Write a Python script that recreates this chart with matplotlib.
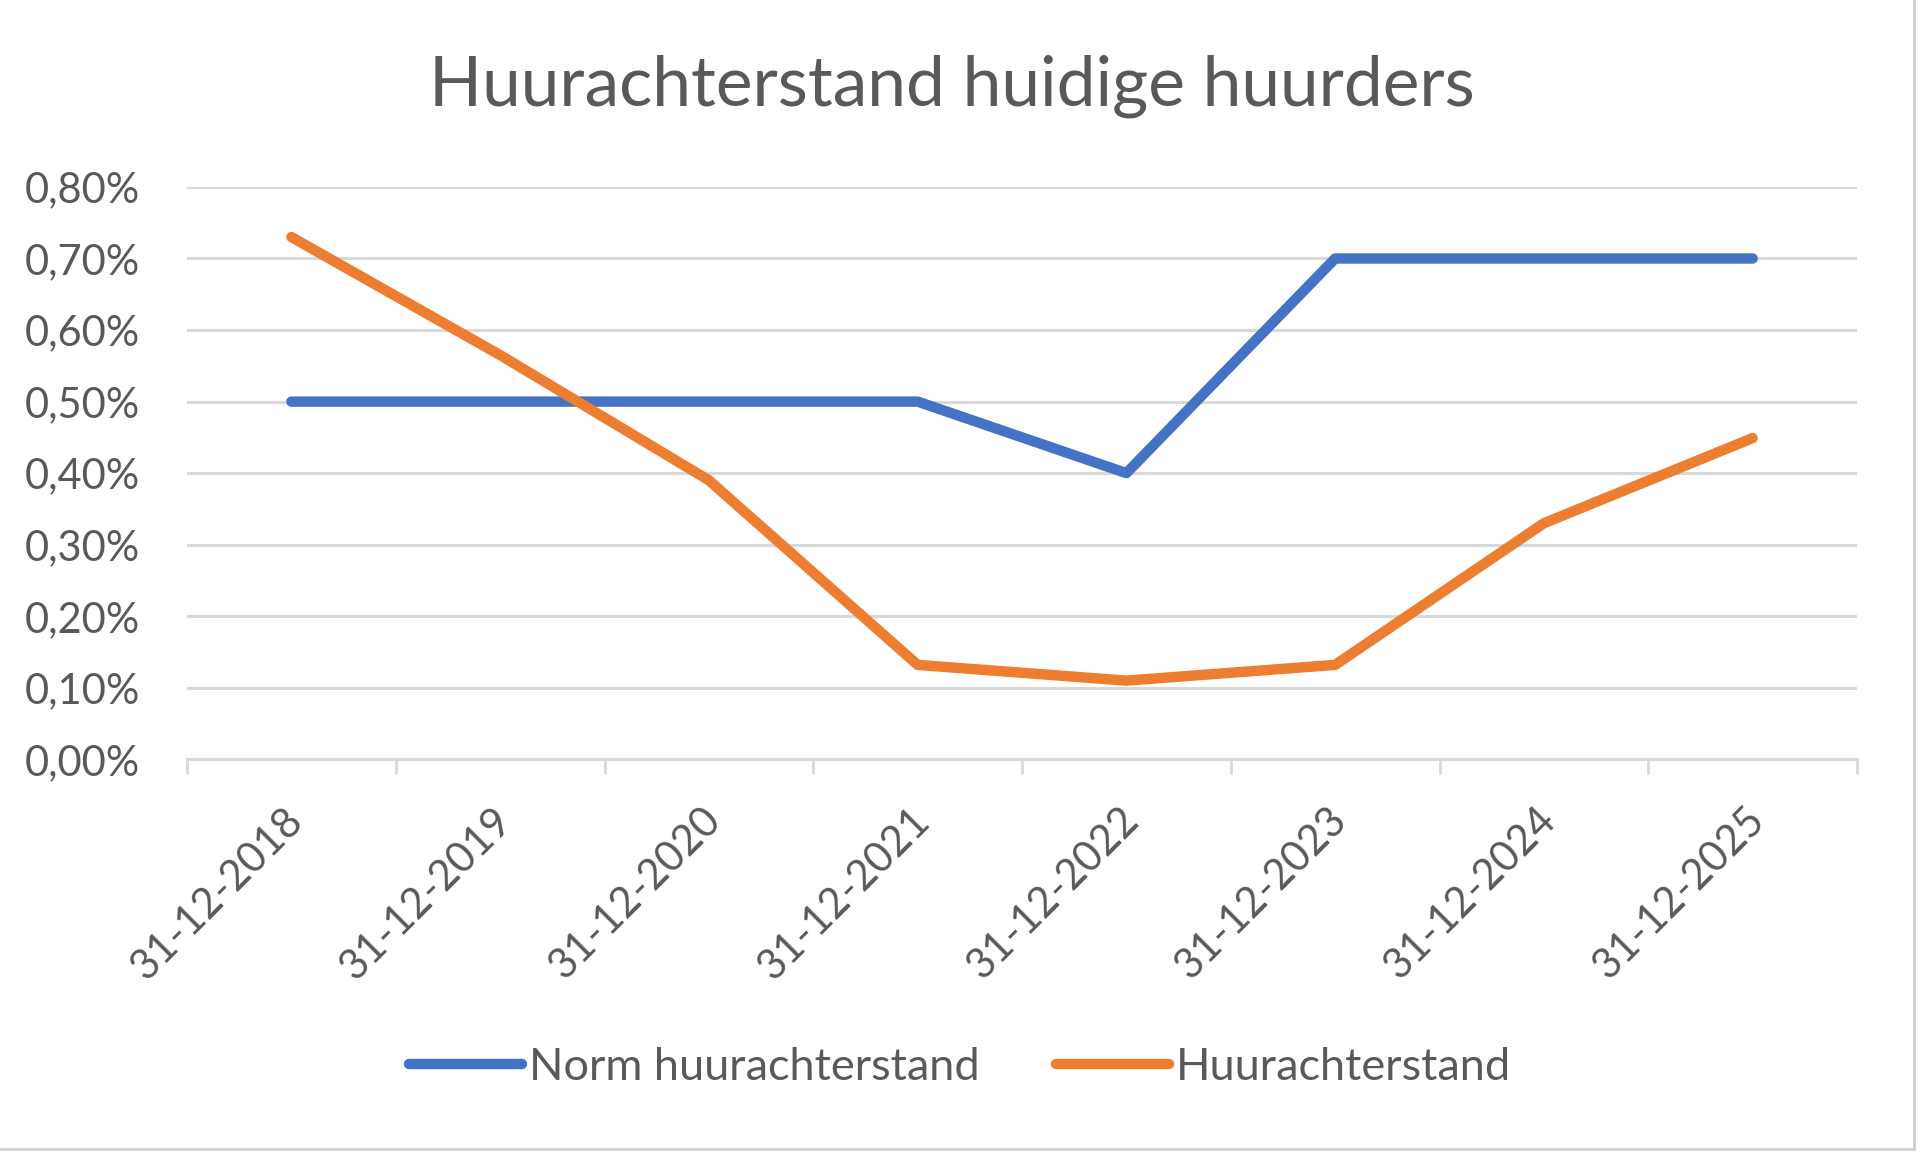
import matplotlib.pyplot as plt
import matplotlib.transforms as mtransforms
from matplotlib.lines import Line2D
from matplotlib.ticker import FuncFormatter

plt.rcParams['font.family'] = ['Lato', 'DejaVu Sans']

dates = ['31-12-2018', '31-12-2019', '31-12-2020', '31-12-2021',
         '31-12-2022', '31-12-2023', '31-12-2024', '31-12-2025']
norm = [0.50, 0.50, 0.50, 0.50, 0.40, 0.70, 0.70, 0.70]
achterstand = [0.73, 0.565, 0.39, 0.132, 0.11, 0.132, 0.33, 0.449]

grey = '#595959'

fig = plt.figure(figsize=(19.2, 11.54), dpi=100)
ax = fig.add_axes([0.0974, 0.342, 0.8698, 0.496])

x = list(range(len(dates)))
ax.plot(x, norm, color='#4472C4', lw=7.5, solid_capstyle='round', label='Norm huurachterstand', zorder=3)
ax.plot(x, achterstand, color='#ED7D31', lw=7.5, solid_capstyle='round', label='Huurachterstand', zorder=3)

ax.set_xlim(-0.5, len(dates) - 0.5)
ax.set_ylim(0, 0.8)
ax.set_yticks([i / 10 for i in range(9)])
ax.yaxis.set_major_formatter(FuncFormatter(lambda v, p: '{:.2f}%'.format(v).replace('.', ',')))
ax.grid(axis='y', color='#D9D9D9', lw=2.2)
ax.set_axisbelow(True)

ax.set_xticks(x)
ax.set_xticklabels(dates, rotation=45, ha='right', rotation_mode='anchor')
ax.set_xticks([i - 0.5 for i in range(len(dates) + 1)], minor=True)
ax.tick_params(axis='x', which='major', length=0, pad=30, labelsize=30, labelcolor=grey)
ax.tick_params(axis='x', which='minor', length=11, width=2, color='#D9D9D9')
ax.tick_params(axis='y', length=0, pad=34, labelsize=30, labelcolor=grey)

# nudge the rotated date labels a little to the left
shift = mtransforms.ScaledTranslation(-8 / 100, 0, fig.dpi_scale_trans)
for lbl in ax.get_xticklabels():
    lbl.set_transform(lbl.get_transform() + shift)

for s in ['top', 'right', 'left']:
    ax.spines[s].set_visible(False)
ax.spines['bottom'].set_color('#D9D9D9')
ax.spines['bottom'].set_linewidth(2.2)

fig.text(0.496, 0.925, 'Huurachterstand huidige huurders', ha='center', va='center',
         fontsize=50, color=grey)

fig.legend(loc='center', bbox_to_anchor=(0.5, 0.075), ncol=2, frameon=False,
           fontsize=32.5, labelcolor=grey, handlelength=2.5, handletextpad=0.15,
           columnspacing=1.7)

# sheet cell borders around the chart
fig.add_artist(Line2D([0.997, 0.997], [0.004, 1.0], transform=fig.transFigure, color='#D0D0D0', lw=2))
fig.add_artist(Line2D([0.0, 0.997], [0.004, 0.004], transform=fig.transFigure, color='#D0D0D0', lw=2))

fig.savefig('out.png', dpi=100, facecolor='white')
